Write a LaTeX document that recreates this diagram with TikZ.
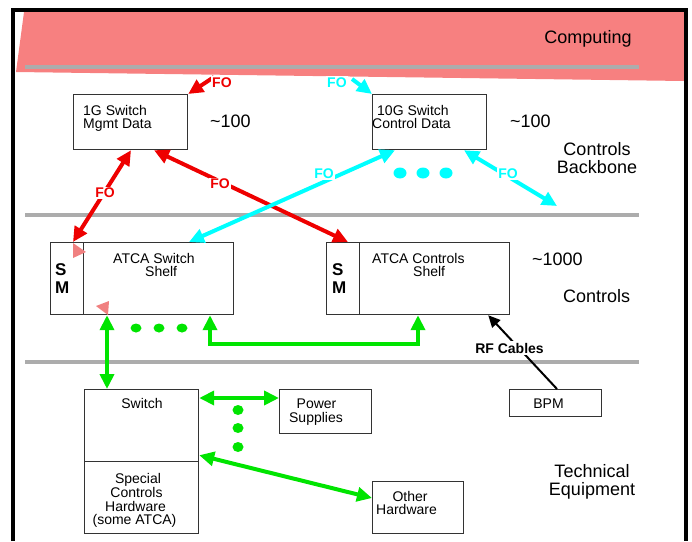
\documentclass[tikz,border=0pt]{standalone}
\usepackage{fontspec}
\setmainfont{Liberation Sans}
\usetikzlibrary{arrows.meta,calc}
\definecolor{band}{RGB}{247,128,128}
\definecolor{salmon}{RGB}{240,128,128}
\definecolor{bar}{RGB}{172,172,172}
\definecolor{myred}{RGB}{238,0,0}
\definecolor{mycyan}{RGB}{0,255,255}
\definecolor{mygreen}{RGB}{0,228,0}
\begin{document}
\begin{tikzpicture}[x=1pt,y=-1pt,
  >={Triangle[length=15pt,width=14pt]},
  box/.style={draw=black!80,line width=1.2pt,inner sep=0pt,anchor=north west},
  txt/.style={inner sep=0pt,font=\fontsize{14}{14}\selectfont},
  big/.style={inner sep=0pt,font=\fontsize{18}{18}\selectfont},
  smlab/.style={inner sep=0pt,anchor=base west,font=\bfseries\fontsize{17}{17}\selectfont},
  fo/.style={inner sep=1pt,fill=white,font=\bfseries\fontsize{14}{14}\selectfont},
  redline/.style={draw=myred,line width=4pt},
  cyanline/.style={draw=mycyan,line width=4pt},
  greenline/.style={draw=mygreen,line width=4pt},
  bardraw/.style={fill=bar,draw=none},
  cdot/.style={fill=mycyan,draw=none},
  gdot/.style={fill=mygreen,draw=none}
]
\useasboundingbox (0,0) rectangle (692,541);
% background band
\fill[band] (24,12) -- (684,12) -- (684,81) -- (16,72) -- cycle;
% separator bars
\fill[bardraw] (25,65) rectangle (639,69);
\fill[bardraw] (25,213) rectangle (639,217);
\fill[bardraw] (25,360) rectangle (639,364);
% frame
\draw[line width=4pt] (13,541) -- (13,10) -- (686,10) -- (686,541);

% boxes
\node[box,minimum width=114pt,minimum height=55pt] (g1) at (73,94) {};
\node[box,minimum width=114pt,minimum height=55pt] (g10) at (372,94) {};
\node[box,minimum width=33pt,minimum height=72pt] (sm1) at (50,242) {};
\node[box,minimum width=150pt,minimum height=72pt] (ats) at (83,242) {};
\node[box,minimum width=33pt,minimum height=72pt] (sm2) at (326,242) {};
\node[box,minimum width=150pt,minimum height=72pt] (atc) at (359,242) {};
\node[box,minimum width=114pt,minimum height=72pt] (sw) at (84,389) {};
\node[box,minimum width=114pt,minimum height=72pt] (sch) at (84,461) {};
\node[box,minimum width=92pt,minimum height=44pt] (ps) at (279,389) {};
\node[box,minimum width=91pt,minimum height=52pt] (oh) at (372,481) {};
\node[box,minimum width=92pt,minimum height=27pt] (bpm) at (509,389) {};

% box texts
\node[txt,anchor=base west] (g1a) at (83,115) {1G Switch};
\node[txt,anchor=base west] (g1b) at (83,128) {Mgmt Data};
\node[txt,anchor=base west] (g10a) at (377,115) {10G Switch};
\node[txt,anchor=base west] (g10b) at (372,128) {Control Data};
\node[txt,anchor=base west] (atsa) at (113,263) {ATCA Switch};
\node[txt,anchor=base west] (atsb) at (145,276) {Shelf};
\node[txt,anchor=base west] (atca) at (372,263) {ATCA Controls};
\node[txt,anchor=base west] (atcb) at (413,276) {Shelf};
\node[smlab] (s1) at (55,275) {S};
\node[smlab] (m1) at (55,293) {M};
\node[smlab] (s2) at (332,275) {S};
\node[smlab] (m2) at (332,293) {M};
\node[txt,anchor=base] (swt) at (142,408) {Switch};
\node[txt,anchor=base] (sc1) at (138,483) {Special};
\node[txt,anchor=base] (sc2) at (136.5,497) {Controls};
\node[txt,anchor=base] (sc3) at (135.5,511) {Hardware};
\node[txt,anchor=base] (sc4) at (134.5,524) {(some ATCA)};
\node[txt,anchor=base] (ps1) at (316.5,408) {Power};
\node[txt,anchor=base] (ps2) at (316,422) {Supplies};
\node[txt,anchor=base] (oh1) at (410,501) {Other};
\node[txt,anchor=base] (oh2) at (406.5,514) {Hardware};
\node[txt,anchor=base] (bpmt) at (548.5,408) {BPM};

% big labels
\node[big,anchor=base] (comp) at (588,43) {Computing};
\node[big,anchor=base west] (n100a) at (210,127) {\textasciitilde 100};
\node[big,anchor=base west] (n100b) at (510,127) {\textasciitilde 100};
\node[big,anchor=base] (cb1) at (597,155) {Controls};
\node[big,anchor=base] (cb2) at (597,173) {Backbone};
\node[big,anchor=base west] (n1000) at (532,265) {\textasciitilde 1000};
\node[big,anchor=base west] (ctl) at (563,302) {Controls};
\node[big,anchor=base] (te1) at (592,477) {Technical};
\node[big,anchor=base] (te2) at (592,495) {Equipment};

% free ends
\coordinate (r1t) at (214,77);
\coordinate (c1t) at (352,79);
\coordinate (c3t) at (557,206);

% red connectors
\draw[redline,->] (r1t) -- (g1.north east);
\draw[redline,<->] ([xshift=58pt]g1.south west) -- ([xshift=23pt]sm1.north west);
\draw[redline,<->] ([xshift=81pt]g1.south west) -- ([xshift=22pt]sm2.north west);
% cyan connectors
\draw[cyanline,->] (c1t) -- (g10.north west);
\draw[cyanline,<->] ([xshift=23pt]g10.south west) -- ([xshift=106pt]ats.north west);
\draw[cyanline,<->] ([xshift=92pt]g10.south west) -- (c3t);
% green connectors
\draw[greenline,<->] ([xshift=24pt]ats.south west) -- ([xshift=23pt]sw.north west);
\draw[greenline,<->] ([xshift=127pt]ats.south west) -- ++(0,29) -| ([xshift=59pt]atc.south west);
\draw[greenline,<->] ([yshift=-9pt]sw.north east) -- ([yshift=-9pt]ps.north west);
\draw[greenline,<->] ([yshift=7pt]sw.south east) -- ([yshift=-17pt]oh.north west);
% black RF connector
\draw[line width=2pt,-{Triangle[length=12pt,width=11pt]}] ([xshift=48pt]bpm.north west) -- ([xshift=-22pt]atc.south east);
\node[fo,anchor=base,inner sep=1.5pt] (rf) at (509.5,353) {RF Cables};

% FO labels
\node[fo,text=myred,anchor=base west] (fo1) at (211,87) {FO};
\node[fo,text=myred] (fo2) at (105,193) {FO};
\node[fo,text=myred] (fo3) at (220,184) {FO};
\node[fo,text=mycyan,anchor=base west] (fo4) at (326,87) {FO};
\node[fo,text=mycyan] (fo5) at (324,174) {FO};
\node[fo,text=mycyan] (fo6) at (508,174) {FO};

% dots
\fill[cdot] (400,173) ellipse (6.5 and 5.5);
\fill[cdot] (423,173) ellipse (6.5 and 5.5);
\fill[cdot] (446,173) ellipse (6.5 and 5.5);
\fill[gdot] (136,328) ellipse (5.5 and 4.5);
\fill[gdot] (159,328) ellipse (5.5 and 4.5);
\fill[gdot] (182,328) ellipse (5.5 and 4.5);
\fill[gdot] (238,410) ellipse (5.5 and 5);
\fill[gdot] (238,428) ellipse (5.5 and 5);
\fill[gdot] (238,447) ellipse (5.5 and 5);

% salmon markers
\fill[salmon] (73,243) -- (86,252) -- (73,258) -- cycle;
\fill[salmon] (96,306) -- (109,301) -- (108,315) -- cycle;
\end{tikzpicture}
\end{document}
